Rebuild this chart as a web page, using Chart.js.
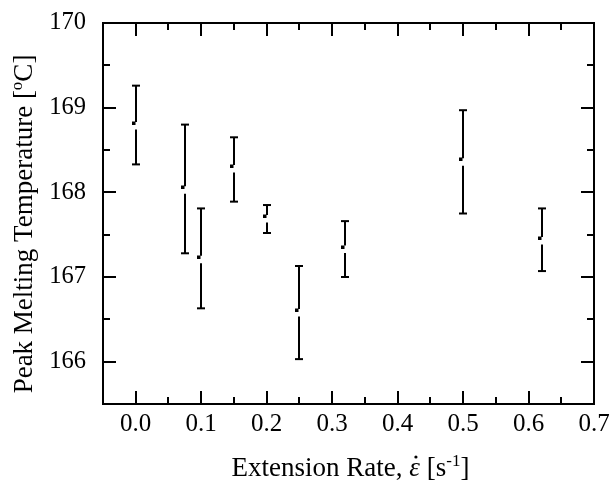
<!DOCTYPE html>
<html>
<head>
<meta charset="utf-8">
<script src="https://cdn.jsdelivr.net/npm/chart.js@4.4.1/dist/chart.umd.min.js"></script>
<style>
  html, body { margin: 0; padding: 0; background: #ffffff; }
  #wrap { width: 610px; height: 485px; }
</style>
</head>
<body>
<div id="wrap"><canvas id="c" width="610" height="485"></canvas></div>
<script>
// ---- data ----
const extensionRate = [0.0, 0.075, 0.1, 0.15, 0.2, 0.25, 0.32, 0.5, 0.62];
const meanTemp      = [168.82, 168.06, 167.24, 168.31, 167.72, 166.61, 167.36, 168.39, 167.46];
const upperTemp     = [169.26, 168.80, 167.81, 168.65, 167.85, 167.13, 167.66, 168.97, 167.81];
const lowerTemp     = [168.33, 167.28, 166.63, 167.89, 167.52, 166.03, 167.00, 167.75, 167.07];
const xMajorTicks   = [0.0, 0.1, 0.2, 0.3, 0.4, 0.5, 0.6, 0.7];
const xMinorTicks   = [0.05, 0.15, 0.25, 0.35, 0.45, 0.55, 0.65];
const yMajorTicks   = [166, 167, 168, 169, 170];
const yMinorTicks   = [166.5, 167.5, 168.5, 169.5];
const xLabels       = ['0.0', '0.1', '0.2', '0.3', '0.4', '0.5', '0.6', '0.7'];
const yLabels       = ['166', '167', '168', '169', '170'];

const FONT = '"Liberation Serif", "Times New Roman", serif';

const framePlugin = {
  id: 'frame',
  afterDatasetsDraw(chart) {
    const ctx = chart.ctx, a = chart.chartArea;
    const xs = chart.scales.x, ys = chart.scales.y;
    ctx.save();
    ctx.strokeStyle = '#000';
    ctx.lineWidth = 2;
    ctx.lineCap = 'butt';
    const seg = (x1, y1, x2, y2) => { ctx.beginPath(); ctx.moveTo(x1, y1); ctx.lineTo(x2, y2); ctx.stroke(); };
    const MAJ = 13, MIN = 7;
    xMajorTicks.forEach(v => { const p = Math.round(xs.getPixelForValue(v));
      seg(p, a.bottom, p, a.bottom - MAJ); seg(p, a.top, p, a.top + MAJ); });
    xMinorTicks.forEach(v => { const p = Math.round(xs.getPixelForValue(v));
      seg(p, a.bottom, p, a.bottom - MIN); seg(p, a.top, p, a.top + MIN); });
    yMajorTicks.forEach(v => { const p = Math.round(ys.getPixelForValue(v));
      seg(a.left, p, a.left + MAJ, p); seg(a.right, p, a.right - MAJ, p); });
    yMinorTicks.forEach(v => { const p = Math.round(ys.getPixelForValue(v));
      seg(a.left, p, a.left + MIN, p); seg(a.right, p, a.right - MIN, p); });
    ctx.strokeRect(a.left, a.top, a.right - a.left, a.bottom - a.top);

    // error bars with mean markers
    ctx.fillStyle = '#000';
    extensionRate.forEach((xv, i) => {
      const px = Math.round(xs.getPixelForValue(xv));
      const pm = ys.getPixelForValue(meanTemp[i]);
      const pu = ys.getPixelForValue(upperTemp[i]);
      const pl = ys.getPixelForValue(lowerTemp[i]);
      seg(px, pu, px, pm - 1);
      seg(px, pm + 6.5, px, pl);
      seg(px - 4, pu, px + 4, pu);
      seg(px - 4, pl, px + 4, pl);
      ctx.fillRect(px - 4, Math.round(pm) - 1.5, 3.5, 3.5);
    });
    ctx.restore();
  },
  afterDraw(chart) {
    const ctx = chart.ctx, a = chart.chartArea;
    ctx.save();
    ctx.fillStyle = '#000';
    ctx.textBaseline = 'alphabetic';
    ctx.textAlign = 'left';
    const drawRich = (segs, cx, by) => {
      let total = 0;
      segs.forEach(s => { ctx.font = s.font; s.w = ctx.measureText(s.t).width; total += s.w; });
      let x = cx - total / 2;
      segs.forEach(s => {
        ctx.font = s.font;
        ctx.fillText(s.t, x, by - (s.rise || 0));
        if (s.dot) {
          ctx.beginPath();
          ctx.arc(x + s.w * 0.62, by - 19, 1.6, 0, Math.PI * 2);
          ctx.fill();
        }
        x += s.w;
      });
    };
    const N = '27px ' + FONT, I = 'italic 27px ' + FONT, S = '17px ' + FONT;
    drawRich([
      { t: 'Extension Rate, ', font: N },
      { t: '\u03B5', font: I, dot: true },
      { t: ' [s', font: N },
      { t: '-1', font: S, rise: 10 },
      { t: ']', font: N }
    ], (a.left + a.right) / 2 + 2, 476);
    ctx.translate(32, 224);
    ctx.rotate(-Math.PI / 2);
    drawRich([
      { t: 'Peak Melting Temperature [', font: N },
      { t: 'o', font: S, rise: 10 },
      { t: 'C]', font: N }
    ], 0, 0);
    ctx.restore();
  }
};

new Chart(document.getElementById('c'), {
  type: 'scatter',
  data: {
    datasets: [{
      label: 'Peak Melting Temperature',
      data: extensionRate.map((x, i) => ({ x: x, y: meanTemp[i] })),
      pointRadius: 0,
      showLine: false
    }]
  },
  options: {
    responsive: false,
    animation: false,
    devicePixelRatio: 1,
    layout: { padding: { left: 0, right: 16, top: 23, bottom: 0 } },
    plugins: { legend: { display: false }, tooltip: { enabled: false } },
    scales: {
      x: {
        type: 'linear', min: -0.05, max: 0.7,
        afterBuildTicks: s => { s.ticks = xMajorTicks.map(v => ({ value: v })); },
        afterFit: s => { s.height = 81; },
        grid: { display: false },
        border: { display: false },
        ticks: {
          color: '#000', padding: 0, maxRotation: 0, autoSkip: false,
          font: { family: FONT, size: 25, lineHeight: 1 },
          callback: (v) => xLabels[xMajorTicks.findIndex(t => Math.abs(t - v) < 1e-9)]
        }
      },
      y: {
        type: 'linear', min: 165.5, max: 170,
        afterBuildTicks: s => { s.ticks = yMajorTicks.map(v => ({ value: v })); },
        afterFit: s => { s.width = 103; },
        grid: { display: false },
        border: { display: false },
        ticks: {
          color: '#000', padding: 9, autoSkip: false,
          font: { family: FONT, size: 24.5, lineHeight: 1 },
          callback: (v) => yLabels[yMajorTicks.findIndex(t => Math.abs(t - v) < 1e-9)]
        }
      }
    }
  },
  plugins: [framePlugin]
});
</script>
</body>
</html>
